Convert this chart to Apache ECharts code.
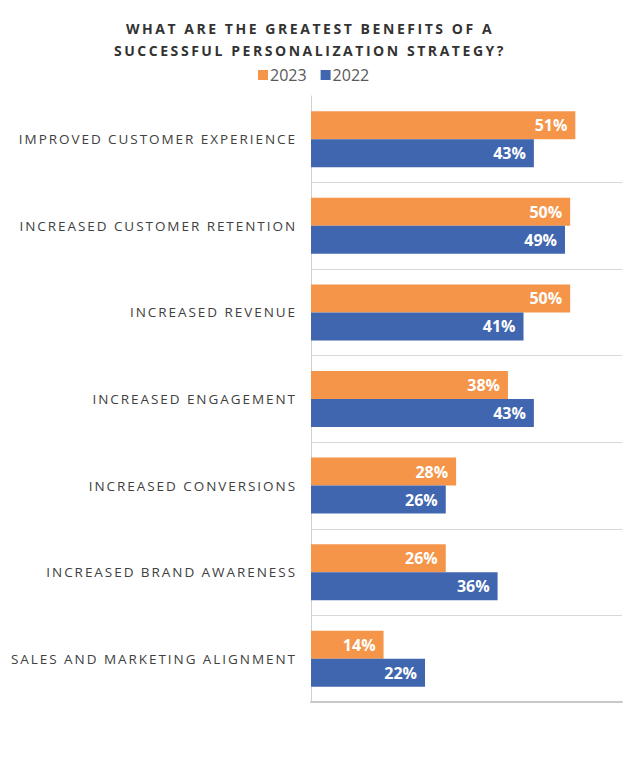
<!DOCTYPE html>
<html>
<head>
<meta charset="utf-8">
<script src="https://cdn.jsdelivr.net/npm/echarts@6/dist/echarts.min.js"></script>
<style>
  html, body { margin: 0; padding: 0; background: #fff; }
  #chart { width: 641px; height: 761px; }
  #chart text[style*="13.5px"] { letter-spacing: 1.95px; }
  #chart text[style*="14px"] { letter-spacing: 2.55px; }
</style>
</head>
<body>
<div id="chart"></div>
<script>
const titleText = 'WHAT ARE THE GREATEST BENEFITS OF A\nSUCCESSFUL PERSONALIZATION STRATEGY?';
const categories = [
  'IMPROVED CUSTOMER EXPERIENCE',
  'INCREASED CUSTOMER RETENTION',
  'INCREASED REVENUE',
  'INCREASED ENGAGEMENT',
  'INCREASED CONVERSIONS',
  'INCREASED BRAND AWARENESS',
  'SALES AND MARKETING ALIGNMENT'
];
const seriesNames = ['2023', '2022'];
const values2023 = [51, 50, 50, 38, 28, 26, 14];
const values2022 = [43, 49, 41, 43, 26, 36, 22];
const colors = ['#F5954A', '#4066B0'];

const chart = echarts.init(document.getElementById('chart'), null, { renderer: 'svg' });
const labelStyle = {
  show: true,
  position: 'insideRight',
  distance: 8,
  color: '#fff',
  fontWeight: 'bold',
  fontSize: 16,
  fontFamily: 'Open Sans',
  formatter: p => p.value + '%'
};
chart.setOption({
  animation: false,
  color: colors,
  title: {
    text: titleText,
    left: 305,
    textAlign: 'center',
    top: 12,
    textStyle: {
      fontFamily: 'Open Sans',
      fontWeight: 'bold',
      fontSize: 14,
      lineHeight: 22,
      color: '#333333'
    }
  },
  legend: {
    top: 62,
    left: 253,
    icon: 'rect',
    itemWidth: 10,
    itemHeight: 10,
    itemGap: 14,
    textStyle: { fontFamily: 'Open Sans', fontSize: 16, color: '#595959', padding: [0, 0, 0, -3] },
    data: seriesNames
  },
  grid: { left: 311, right: 19, top: 96, bottom: 59, containLabel: false },
  xAxis: {
    show: true,
    type: 'value',
    min: 0,
    max: 60,
    position: 'bottom',
    axisLabel: { show: false },
    axisTick: { show: false },
    splitLine: { show: false },
    axisLine: { show: true, onZero: false, lineStyle: { color: '#c8c8c8', width: 2 } }
  },
  yAxis: {
    type: 'category',
    inverse: true,
    data: categories,
    axisTick: { show: false },
    axisLine: { show: true, lineStyle: { color: '#d0d0d0', width: 1 } },
    splitLine: { show: true, showMinLine: false, showMaxLine: false, lineStyle: { color: '#d8d8d8', width: 1 } },
    axisLabel: {
      margin: 14,
      fontFamily: 'Open Sans',
      fontSize: 13.5,
      color: '#404040'
    }
  },
  series: [
    { name: seriesNames[0], type: 'bar', data: values2023, barWidth: 28, barGap: '0%', label: labelStyle },
    { name: seriesNames[1], type: 'bar', data: values2022, barWidth: 28, barGap: '0%', label: labelStyle }
  ]
});
</script>
</body>
</html>
